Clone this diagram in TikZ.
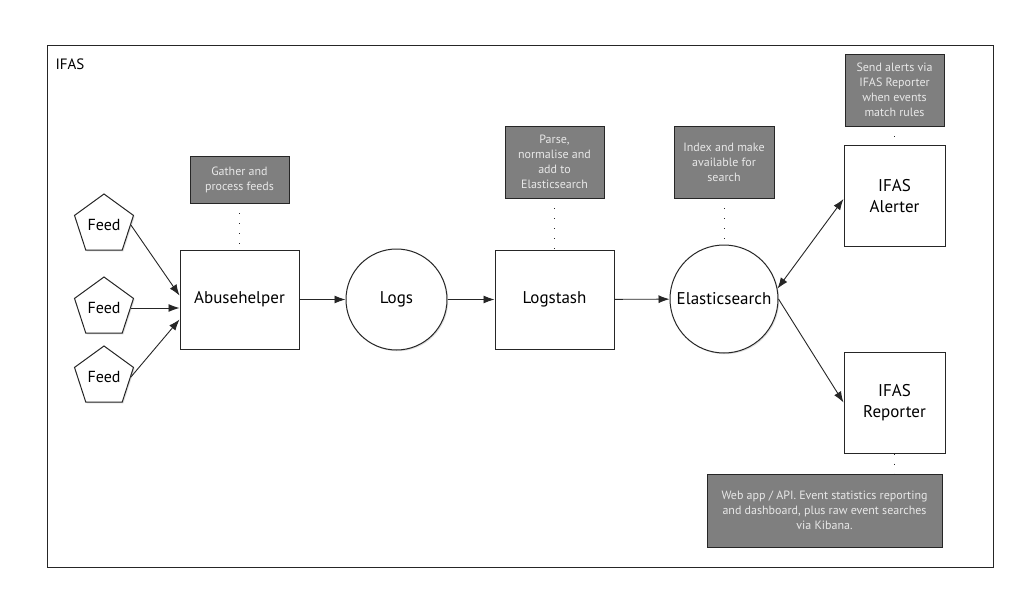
\documentclass[tikz,border=0pt]{standalone}
\usepackage{fontspec}
\setmainfont{PT Sans}
\usetikzlibrary{shapes.geometric,arrows.meta,shadows}

\definecolor{notegray}{HTML}{7F7F7F}
\definecolor{notetext}{HTML}{E8E8E8}
\definecolor{linegray}{HTML}{262626}

\tikzset{
  soft/.style={drop shadow={opacity=0.25,shadow xshift=1.2pt,shadow yshift=-1.2pt}},
  box/.style={rectangle,draw=linegray,line width=1pt,fill=white,align=center,soft,
    minimum width=119pt,minimum height=99pt,inner sep=2pt,font=\fontsize{17}{21}\selectfont},
  hub/.style={circle,draw=linegray,line width=1pt,fill=white,inner sep=0pt,soft,
    font=\fontsize{17}{21}\selectfont},
  feed/.style={regular polygon,regular polygon sides=5,draw=linegray,line width=1pt,
    fill=white,soft,inner sep=0pt,minimum size=62pt,font=\fontsize{16}{19}\selectfont},
  note/.style={rectangle,draw=linegray,line width=0.9pt,fill=notegray,text=notetext,soft,
    align=center,inner sep=2pt,font=\fontsize{12}{15}\selectfont},
  flow/.style={-{Latex[length=11pt,width=8pt]},line width=0.9pt,draw=linegray},
  link/.style={line width=1pt,draw=linegray,dash pattern=on 1pt off 9pt}
}

\begin{document}
\begin{tikzpicture}[x=1pt,y=-1pt]
\useasboundingbox (0,0) rectangle (1023,599);
\draw[line width=1pt,draw=linegray,fill=white,soft] (47,46) rectangle (993,567);
\node [anchor=west,font=\fontsize{15}{18}\selectfont] (title) at (52,64) {IFAS};

% sources
\node [feed] (f1) at (104,225) {Feed};
\node [feed] (f2) at (104,308) {Feed};
\node [feed] (f3) at (104,377) {Feed};

% pipeline
\node [box] (abuse) at (239.5,299.5) {Abusehelper};
\node [hub,minimum size=101pt] (logs) at (396.5,299.5) {Logs};
\node [box] (logstash) at (554.5,299.5) {Logstash};
\node [hub,minimum size=108pt] (es) at (724,299) {Elasticsearch};
\node [box,minimum width=101pt,minimum height=100pt] (alerter) at (894.5,196) {IFAS\\Alerter};
\node [box,minimum width=101pt,minimum height=101pt] (reporter) at (894.5,402.5) {IFAS\\Reporter};

% notes
\node [note,minimum width=99pt,minimum height=47pt] (gather) at (239.5,179.5) {Gather and\\process feeds};
\node [note,minimum width=99pt,minimum height=72pt] (parse) at (554.5,162) {Parse,\\normalise and\\add to\\Elasticsearch};
\node [note,minimum width=100pt,minimum height=72pt] (index) at (724,162) {Index and make\\available for\\search};
\node [note,minimum width=99pt,minimum height=72pt] (send) at (894.5,90) {Send alerts via\\IFAS Reporter\\when events\\match rules};
\node [note,minimum width=235pt,minimum height=73pt] (webapp) at (824.5,510.5) {Web app / API. Event statistics reporting\\and dashboard, plus raw event searches\\via Kibana.};

\draw [link] (gather) -- (abuse);
\draw [link] (parse) -- (logstash);
\draw [link] (index) -- (es);
\draw [link] (send) -- (alerter);
\draw [link] (reporter.south) -- (reporter.south |- webapp.north);

\draw [flow] (f1.east) -- ([yshift=4pt]abuse.west);
\draw [flow] (f2.east) -- (f2.east -| abuse.west);
\draw [flow] (f3.east) -- ([yshift=-20pt]abuse.west);
\draw [flow] (abuse) -- (logs);
\draw [flow] (logs) -- (logstash);
\draw [flow] (logstash) -- (es);
\draw [flow,{Latex[length=11pt,width=8pt]}-{Latex[length=11pt,width=8pt]}] (es.11) -- ([yshift=-3pt]alerter.west);
\draw [flow] (es.east) -- (reporter.west);
\end{tikzpicture}
\end{document}
